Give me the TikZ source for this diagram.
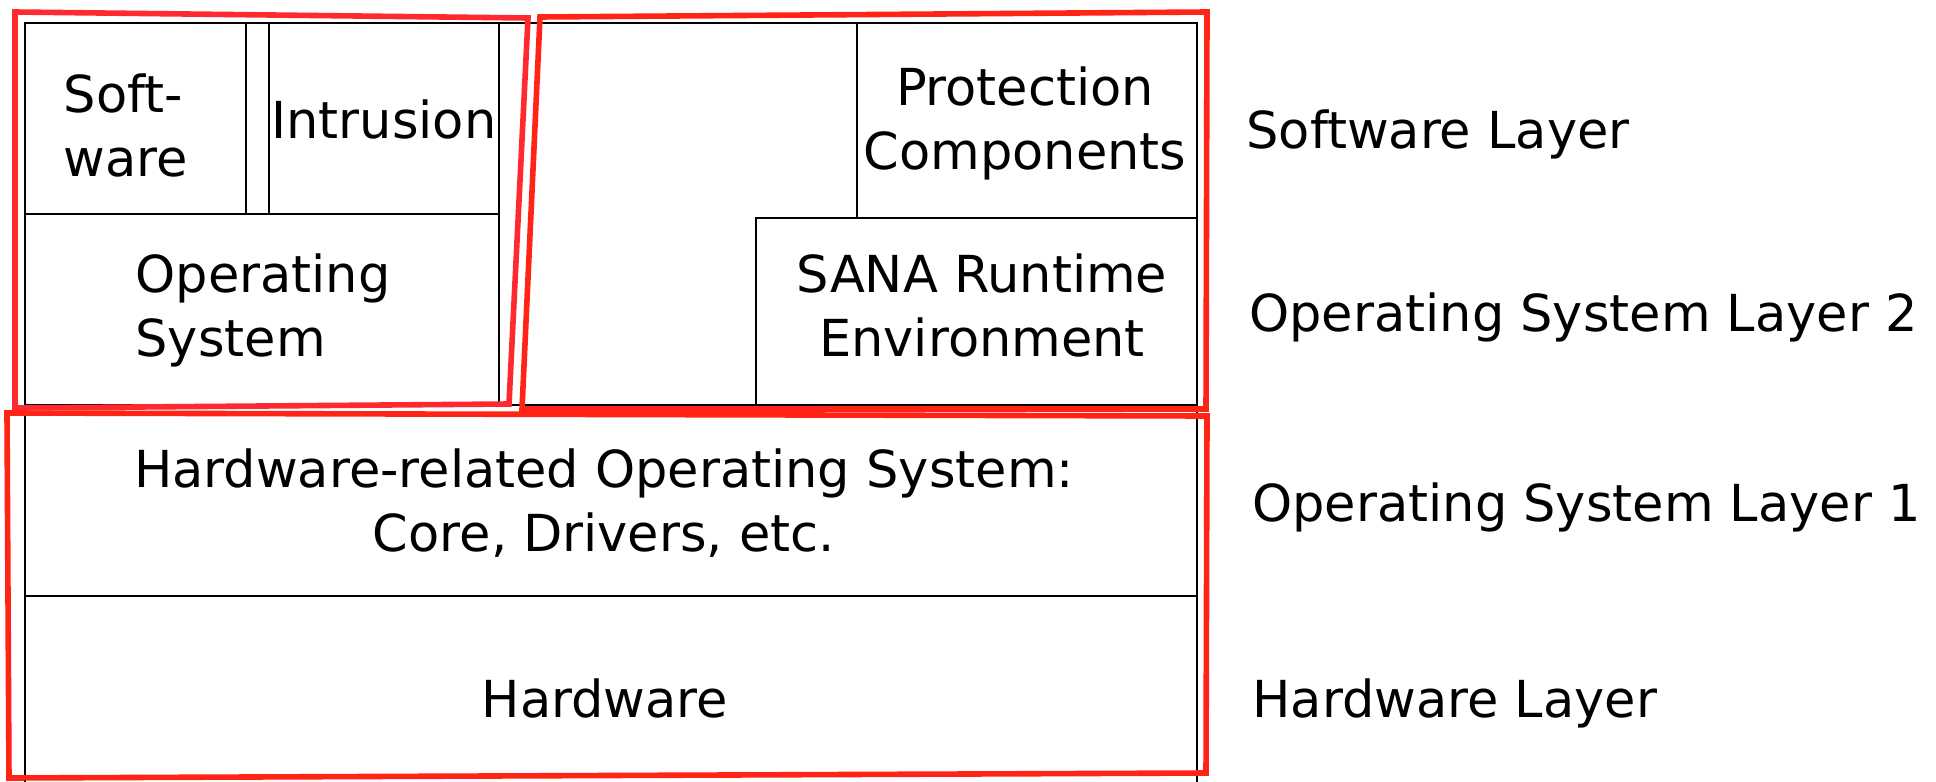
\documentclass[tikz,border=0pt]{standalone}
\usepackage{fontspec}
\setmainfont{DejaVu Sans}
\usetikzlibrary{fit}
\definecolor{annoA}{RGB}{255,42,48}
\definecolor{annoB}{RGB}{255,36,22}
\begin{document}
\begin{tikzpicture}[x=0.5pt,y=-0.5pt,
  box/.style={draw=black, line width=1.1pt, inner sep=0pt},
  lbl/.style={inner sep=0pt, font=\fontsize{25.5}{32}\selectfont},
  anno/.style={line width=2.8pt, line join=miter}]
\clip (0,0) rectangle (1936,781);
\fill[white] (0,0) rectangle (1936,781);
% layer boxes
\node[box, fit={(499,23) (1197,405)}] (rarea) {};
\node[box, fit={(25,23) (246,214)}] (sw) {};
\node[box, fit={(246,23) (269,214)}] (gap) {};
\node[box, fit={(269,23) (499,214)}] (intr) {};
\node[box, fit={(25,214) (499,405)}] (os) {};
\node[box, fit={(857,23) (1197,218)}] (prot) {};
\node[box, fit={(756,218) (1197,405)}] (sana) {};
\node[box, fit={(25,405) (1197,596)}] (hwos) {};
\node[box, fit={(25,596) (1197,830)}] (hw) {};
% texts
\node[lbl, align=left] (swt) at (126,125.5) {Soft-\\ware};
\node[lbl, anchor=base] (intrt) at (384,139) {Intrusion};
\node[lbl, align=left] (ost) at (263,310.5) {Operating\\System};
\node[lbl, align=center] (prott) at (1025,123.5) {Protection\\Components};
\node[lbl, align=center] (sanat) at (982,305.3) {SANA Runtime\\Environment};
\node[lbl, align=center] (hwost) at (604,503) {Hardware-related Operating System:\\Core, Drivers, etc.};
\node[lbl, anchor=base] (hwt) at (605,717) {Hardware};
\node[lbl, anchor=base west] (l1) at (1246,148.4) {Software Layer};
\node[lbl, anchor=base west] (l2) at (1249,331) {Operating System Layer 2};
\node[lbl, anchor=base west] (l3) at (1252,521) {Operating System Layer 1};
\node[lbl, anchor=base west] (l4) at (1252,717.6) {Hardware Layer};
% red annotation outlines
\draw[anno, annoA] (15,12) -- (528,18) -- (509,404) -- (15,408) -- cycle;
\draw[anno, annoB] (540,17) -- (1207,12) -- (1206,409) -- (522,409) -- cycle;
\draw[anno, annoB] (7,413) -- (1207,416) -- (1206,773) -- (9,778) -- cycle;
\end{tikzpicture}
\end{document}
